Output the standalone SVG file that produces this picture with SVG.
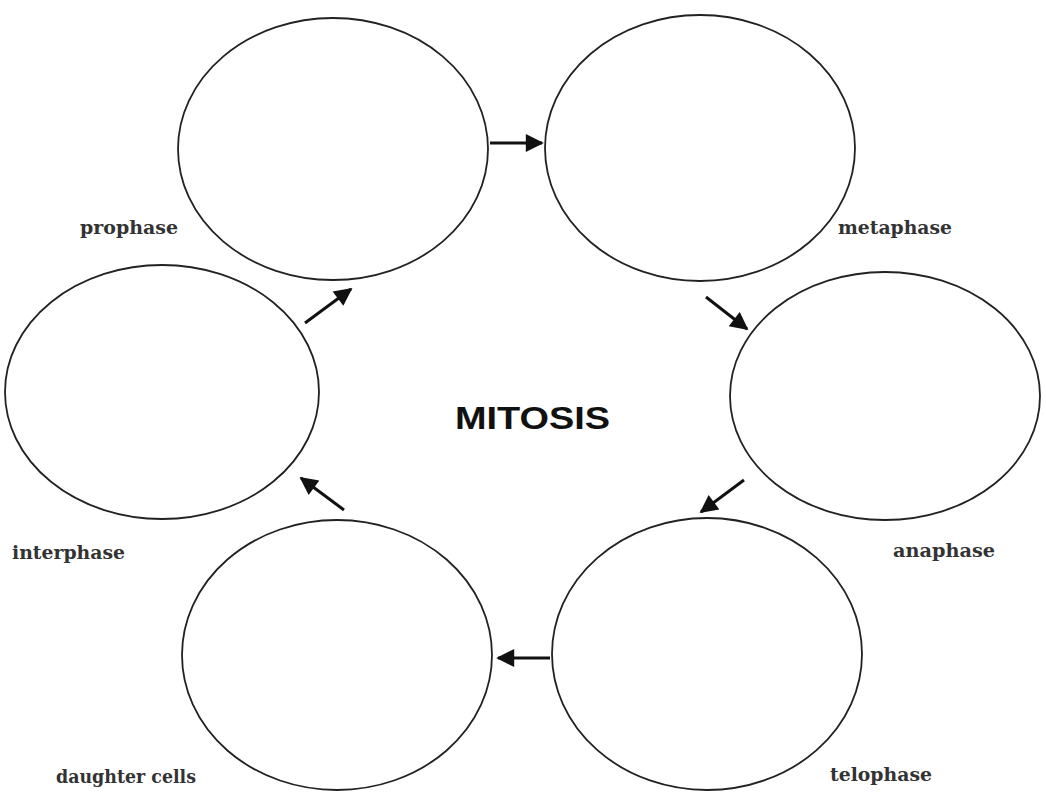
<svg xmlns="http://www.w3.org/2000/svg" width="1046" height="796" viewBox="0 0 1046 796">
<style>
.cell{fill:none;stroke:#222;stroke-width:1.8}
.lbl{font-family:"DejaVu Serif","Liberation Serif",serif;font-size:18px;fill:#333;font-weight:bold}
.arr{stroke:#111;stroke-width:3;fill:none;marker-end:url(#ah)}
</style>
<defs>
<marker id="ah" viewBox="0 0 10 10" refX="9" refY="5" markerWidth="6.5" markerHeight="6" markerUnits="strokeWidth" orient="auto">
<path d="M0,0 L10,5 L0,10 Z" fill="#111"/>
</marker>
</defs>
<rect width="1046" height="796" fill="#fff"/>
<g id="prophase"><ellipse class="cell" cx="333" cy="149" rx="155" ry="131"/><text class="lbl" x="80" y="234" textLength="98" lengthAdjust="spacingAndGlyphs">prophase</text></g>
<g id="metaphase"><ellipse class="cell" cx="700" cy="148" rx="155" ry="133"/><text class="lbl" x="838" y="234" textLength="114" lengthAdjust="spacingAndGlyphs">metaphase</text></g>
<g id="anaphase"><ellipse class="cell" cx="885" cy="396" rx="155" ry="124"/><text class="lbl" x="893" y="557" textLength="102" lengthAdjust="spacingAndGlyphs">anaphase</text></g>
<g id="telophase"><ellipse class="cell" cx="707" cy="654" rx="155" ry="136"/><text class="lbl" x="830" y="781" textLength="102" lengthAdjust="spacingAndGlyphs">telophase</text></g>
<g id="daughter"><ellipse class="cell" cx="337" cy="655" rx="155" ry="135"/><text class="lbl" x="56" y="783" textLength="140" lengthAdjust="spacingAndGlyphs">daughter cells</text></g>
<g id="interphase"><ellipse class="cell" cx="162" cy="392" rx="157" ry="127"/><text class="lbl" x="12" y="559" textLength="113" lengthAdjust="spacingAndGlyphs">interphase</text></g>
<g id="title"><text x="455" y="429" textLength="155" lengthAdjust="spacingAndGlyphs" style="font-family:'Liberation Sans',Arial,sans-serif;font-weight:bold;font-size:31px;fill:#111">MITOSIS</text></g>
<g id="connectors">
<line class="arr" x1="490" y1="143" x2="542" y2="143"/>
<line class="arr" x1="706" y1="297" x2="747" y2="329"/>
<line class="arr" x1="744" y1="480" x2="701" y2="512"/>
<line class="arr" x1="550" y1="658" x2="498" y2="658"/>
<line class="arr" x1="344" y1="510" x2="301" y2="478"/>
<line class="arr" x1="305" y1="323" x2="351" y2="289"/>
</g>
</svg>
